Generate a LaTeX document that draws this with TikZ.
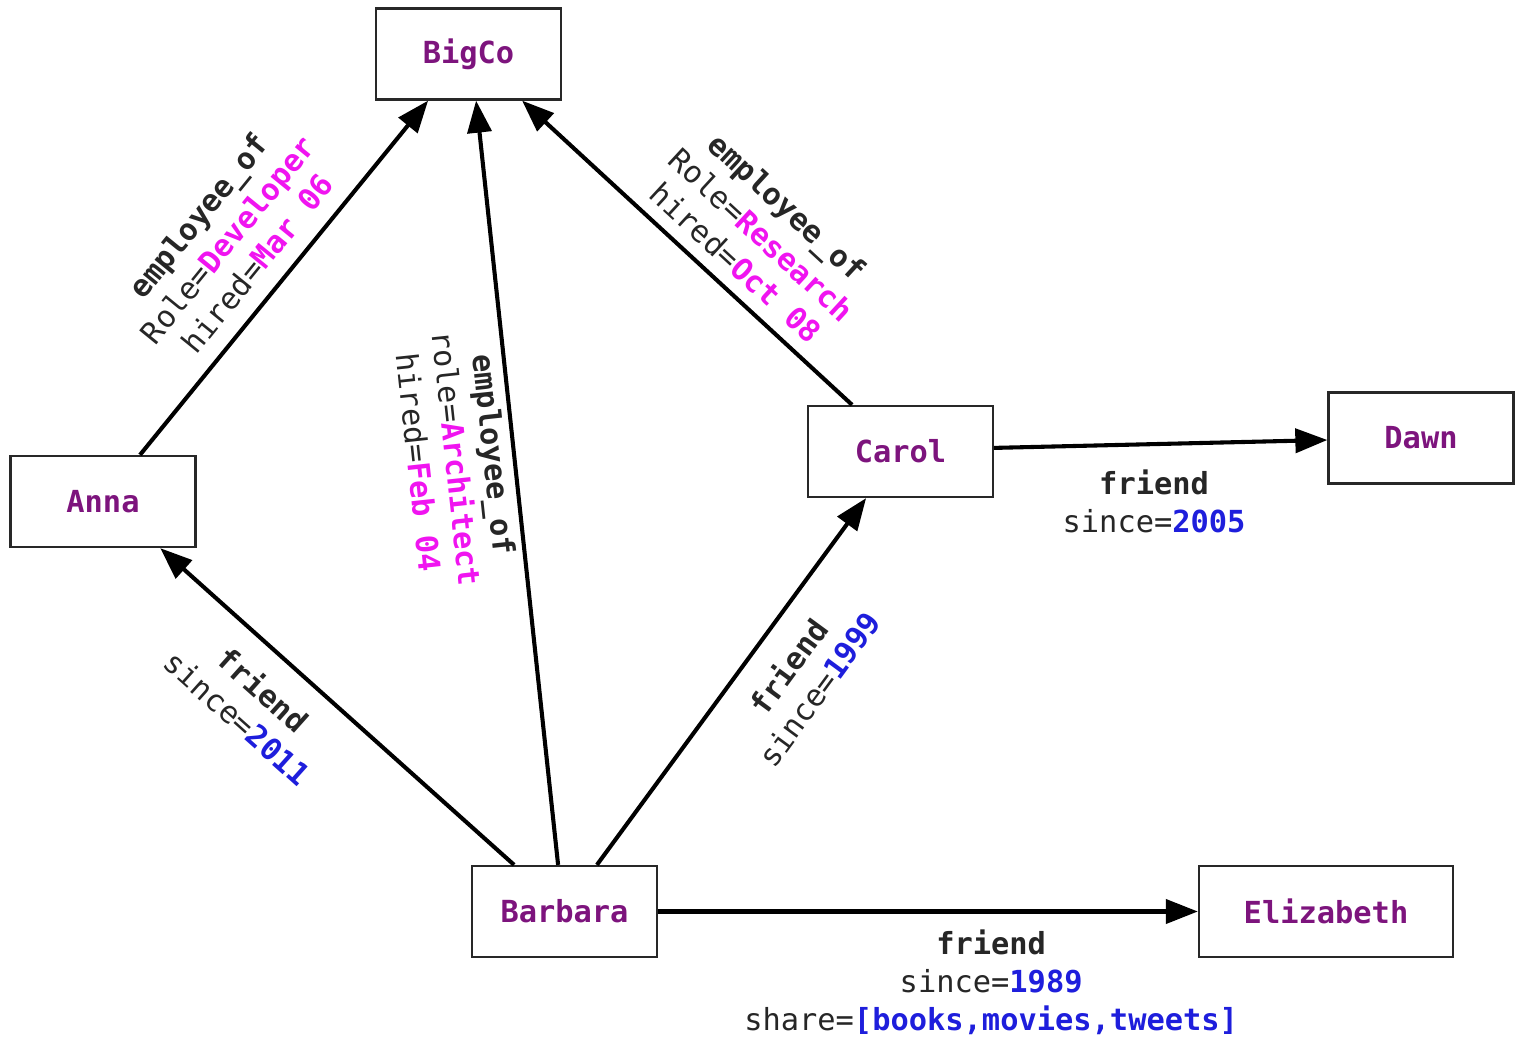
\documentclass[tikz,border=0pt]{standalone}
\usepackage{fontspec}
\setmainfont{DejaVu Sans Mono}
\usetikzlibrary{arrows.meta,positioning}
\definecolor{entitypurple}{RGB}{125,20,125}
\definecolor{propmagenta}{RGB}{240,20,240}
\definecolor{propblue}{RGB}{30,30,220}
\definecolor{edgegray}{RGB}{40,40,40}
\newcommand{\rolev}[1]{\textbf{\color{propmagenta}#1}}
\newcommand{\yearv}[1]{\textbf{\color{propblue}#1}}

\begin{document}
\begin{tikzpicture}[x=0.025cm, y=-0.025cm,
    entity/.style={draw=edgegray, line width=1.6pt, minimum width=4.625cm, minimum height=2.275cm,
        font=\fontsize{21.6}{27}\selectfont\bfseries, text=entitypurple},
    rel/.style={line width=2.9pt, -{Triangle[length=0.8cm,width=0.6cm]}},
    lbl/.style={align=center, inner sep=0pt, font=\fontsize{21.6}{27}\selectfont, text=black!85}]
    \useasboundingbox (0,0) rectangle (1520,1038);

    % people and company
    \node[entity] (bigco) at (468.5,54) {BigCo};
    \node[entity] (anna) at (103,501.5) {Anna};
    \node[entity] (carol) at (900.5,451.5) {Carol};
    \node[entity] (dawn) at (1421,438) {Dawn};
    \node[entity] (barbara) at (564.5,911.5) {Barbara};
    \node[entity, minimum width=6.35cm] (elizabeth) at (1326,911.5) {Elizabeth};

    % employee_of
    \draw[rel] ([xshift=0.925cm]anna.north) -- node[lbl, sloped, above=0.4cm, pos=0.487]
        {\textbf{employee\_of}\\Role=\rolev{Developer}\\hired=\rolev{Mar 06}} ([xshift=-1.01cm]bigco.south);
    \draw[rel] ([xshift=-0.16cm]barbara.north) -- node[lbl, sloped, below=0.15cm, pos=0.54]
        {\textbf{employee\_of}\\role=\rolev{Architect}\\hired=\rolev{Feb 04}} ([xshift=0.19cm]bigco.south);
    \draw[rel] ([xshift=-1.21cm]carol.north) -- node[lbl, sloped, above=0.3cm, pos=0.405]
        {\textbf{employee\_of}\\Role=\rolev{Research}\\hired=\rolev{Oct 08}} ([xshift=1.34cm]bigco.south);

    % friend
    \draw[rel] ([xshift=-1.26cm]barbara.north) -- node[lbl, sloped, below=0.55cm, pos=0.64]
        {\textbf{friend}\\since=\yearv{2011}} ([xshift=1.43cm]anna.south);
    \draw[rel] ([xshift=0.81cm]barbara.north) -- node[lbl, sloped, below=0.55cm, pos=0.6]
        {\textbf{friend}\\since=\yearv{1999}} ([xshift=-0.86cm]carol.south);
    \draw[rel] ([yshift=0.09cm]carol.east) -- node[lbl, below=0.6cm, pos=0.48]
        {\textbf{friend}\\since=\yearv{2005}} ([yshift=-0.05cm]dawn.west);
    \draw[rel] (barbara.east) -- node[lbl, below=0.4cm, pos=0.617]
        {\textbf{friend}\\since=\yearv{1989}\\share=\yearv{[books,movies,tweets]}} (elizabeth.west);
\end{tikzpicture}
\end{document}
